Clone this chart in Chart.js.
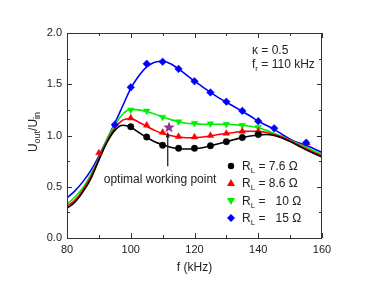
<!DOCTYPE html>
<html><head><meta charset="utf-8">
<script src="https://cdn.jsdelivr.net/npm/chart.js@4"></script>
<style>html,body{margin:0;padding:0;background:#fff}#wrap{width:374px;height:286px;position:relative}</style>
</head><body><div id="wrap"><canvas id="c" width="374" height="286"></canvas></div>
<script>
// ---- data ----
const curveFreq = [80,82.5,85,87.5,90,92.5,95,97.5,100,102.5,105,107.5,110,112.5,115,117.5,120,122.5,125,127.5,130,132.5,135,137.5,140,142.5,145,147.5,150,152.5,155,157.5,160];
const curveBlack = [0.29,0.35,0.45,0.58,0.76,0.93,1.05,1.10,1.08,1.03,0.98,0.94,0.91,0.885,0.87,0.868,0.87,0.88,0.90,0.92,0.94,0.96,0.98,0.995,1.005,1.01,1.0,0.975,0.94,0.90,0.86,0.825,0.79];
const curveRed = [0.31,0.37,0.47,0.60,0.77,0.94,1.07,1.15,1.165,1.13,1.09,1.05,1.02,1.0,0.985,0.978,0.978,0.985,0.995,1.01,1.02,1.03,1.04,1.042,1.04,1.03,1.01,0.985,0.95,0.91,0.87,0.835,0.80];
const curveGreen = [0.33,0.40,0.49,0.62,0.78,0.96,1.10,1.21,1.255,1.25,1.235,1.21,1.18,1.155,1.135,1.12,1.115,1.11,1.11,1.11,1.11,1.105,1.10,1.09,1.075,1.05,1.02,0.99,0.955,0.92,0.885,0.85,0.815];
const curveBlue = [0.39,0.46,0.55,0.66,0.80,0.96,1.12,1.29,1.46,1.58,1.67,1.715,1.725,1.70,1.65,1.59,1.53,1.475,1.42,1.37,1.325,1.28,1.235,1.19,1.14,1.10,1.06,1.01,0.965,0.93,0.905,0.87,0.835];

const blackFreq = [100,105,110,115,120,125,130,135,140];
const blackVals = [1.086,0.985,0.905,0.875,0.875,0.90,0.94,0.98,1.01];
const redFreq = [90,100,105,110,115,120,125,130,135,140,155.3];
const redVals = [0.83,1.17,1.10,1.03,0.99,0.985,1.0,1.02,1.04,1.04,0.925];
const greenFreq = [100,105,110,115,120,125,130,135,140];
const greenVals = [1.25,1.24,1.18,1.135,1.12,1.115,1.11,1.10,1.08];
const blueFreq = [95,100,105,110,115,120,125,130,135,140,145,155];
const blueVals = [1.106,1.47,1.70,1.72,1.65,1.53,1.42,1.33,1.24,1.14,1.07,0.93];
const starFreq = [112];
const starVals = [1.083];

const legendLabels = ["7.6 \u03A9","8.6 \u03A9","  10 \u03A9","  15 \u03A9"];
const xTicks = [80,100,120,140,160];
const yTicks = [0.0,0.5,1.0,1.5,2.0];

// ---- helpers ----
const FONT = '"Liberation Sans", Arial, sans-serif';
const pts = (xs, ys) => xs.map((x,i)=>({x:x,y:ys[i]}));

const starImg = document.createElement('canvas');
starImg.width = 12; starImg.height = 12;
(function(){
  const g = starImg.getContext('2d');
  g.fillStyle = '#9a2f9a';
  g.beginPath();
  for (let i=0;i<10;i++){
    const r = i%2===0 ? 6 : 2.6;
    const a = -Math.PI/2 + i*Math.PI/5;
    const px = 6 + r*Math.cos(a), py = 6.5 + r*Math.sin(a);
    if(i===0) g.moveTo(px,py); else g.lineTo(px,py);
  }
  g.closePath(); g.fill();
})();

function curve(data, color){
  return {type:'line', data:pts(curveFreq,data), borderColor:color, borderWidth:1.6, pointRadius:0, fill:false, cubicInterpolationMode:'monotone', order:3};
}
function marks(xs, ys, color, style, rot, r, ord){
  return {type:'line', data:pts(xs,ys), showLine:false, borderColor:color, backgroundColor:color, pointStyle:style, pointRotation:rot||0, pointRadius:r, borderWidth:0.5, order:ord, clip:false};
}

const deco = {
  id:'deco',
  afterDraw(chart){
    const ctx = chart.ctx, xs = chart.scales.x, ys = chart.scales.y, a = chart.chartArea;
    ctx.save();
    ctx.strokeStyle = '#333'; ctx.lineWidth = 1;
    ctx.strokeRect(a.left+0.5, a.top+0.5, a.right-a.left-1, a.bottom-a.top);
    for (let v=80; v<=160; v+=10){
      const px = Math.round(xs.getPixelForValue(v))+0.5;
      const L = (v%20===0)?5:3;
      ctx.beginPath();
      ctx.moveTo(px,a.bottom); ctx.lineTo(px,a.bottom-L);
      ctx.moveTo(px,a.top); ctx.lineTo(px,a.top+L);
      ctx.stroke();
    }
    for (let k=0;k<=8;k++){
      const v = k*0.25;
      const py = Math.round(ys.getPixelForValue(v))+0.5;
      const L = (k%2===0)?5:3;
      ctx.beginPath();
      ctx.moveTo(a.left,py); ctx.lineTo(a.left+L,py);
      ctx.moveTo(a.right,py); ctx.lineTo(a.right-L,py);
      ctx.stroke();
    }
    ctx.fillStyle = '#222';
    ctx.textBaseline = 'alphabetic';
    ctx.font = '12px ' + FONT;
    ctx.textAlign = 'center';
    ctx.fillText('f (kHz)', (a.left+a.right)/2, 271);
    ctx.save();
    ctx.translate(37, 132);
    ctx.rotate(-Math.PI/2);
    const parts = [['U',12,0],['out',9,3],['/U',12,0],['in',9,3]];
    let tw = 0;
    parts.forEach(p=>{ctx.font=p[1]+'px '+FONT; tw+=ctx.measureText(p[0]).width;});
    let cx = -tw/2;
    ctx.textAlign='left';
    parts.forEach(p=>{ctx.font=p[1]+'px '+FONT; ctx.fillText(p[0],cx,p[2]); cx+=ctx.measureText(p[0]).width;});
    ctx.restore();
    ctx.textAlign='left';
    ctx.font = '12px ' + FONT;
    ctx.fillText('\u03BA = 0.5', 252, 54);
    ctx.fillText('f', 252, 68);
    let fw = ctx.measureText('f').width;
    ctx.font = '8px ' + FONT;
    ctx.fillText('r', 252+fw, 71);
    let rw = ctx.measureText('r').width;
    ctx.font = '12px ' + FONT;
    ctx.fillText(' = 110 kHz', 252+fw+rw, 68);
    const ax = xs.getPixelForValue(111.6);
    const y1 = ys.getPixelForValue(0.70), y2 = ys.getPixelForValue(1.04);
    ctx.strokeStyle = '#222'; ctx.lineWidth = 1.3;
    ctx.beginPath(); ctx.moveTo(ax,y1); ctx.lineTo(ax,y2+3); ctx.stroke();
    ctx.fillStyle = '#222';
    ctx.beginPath(); ctx.moveTo(ax,y2); ctx.lineTo(ax-2,y2+6); ctx.lineTo(ax+2,y2+6); ctx.closePath(); ctx.fill();
    ctx.font = '12px ' + FONT;
    ctx.textAlign = 'center';
    ctx.fillText('optimal working point', xs.getPixelForValue(109.2), ys.getPixelForValue(0.54));
    const lx = 231, rows = [166, 183, 201, 218];
    const cols = ['#000000','#ff0000','#00ee00','#0000ff'];
    rows.forEach((ry,i)=>{
      ctx.fillStyle = cols[i];
      ctx.beginPath();
      if (i===0){ ctx.arc(lx,ry,3.2,0,Math.PI*2); }
      else if (i===1){ ctx.moveTo(lx,ry-4); ctx.lineTo(lx+4,ry+3); ctx.lineTo(lx-4,ry+3); ctx.closePath(); }
      else if (i===2){ ctx.moveTo(lx,ry+4); ctx.lineTo(lx+4,ry-3); ctx.lineTo(lx-4,ry-3); ctx.closePath(); }
      else { ctx.moveTo(lx,ry-4); ctx.lineTo(lx+4,ry); ctx.lineTo(lx,ry+4); ctx.lineTo(lx-4,ry); ctx.closePath(); }
      ctx.fill();
      ctx.fillStyle = '#222';
      ctx.textAlign = 'left';
      ctx.font = '12px ' + FONT;
      let tx = 242;
      ctx.fillText('R', tx, ry+4); tx += ctx.measureText('R').width;
      ctx.font = '8px ' + FONT;
      ctx.fillText('L', tx, ry+7); tx += ctx.measureText('L').width;
      ctx.font = '12px ' + FONT;
      ctx.fillText(' = ' + legendLabels[i], tx, ry+4);
    });
    ctx.restore();
  }
};

new Chart(document.getElementById('c'), {
  type:'line',
  data:{datasets:[
    curve(curveBlack,'#000000'),
    curve(curveRed,'#ff0000'),
    curve(curveGreen,'#00ee00'),
    curve(curveBlue,'#0000ff'),
    marks(blackFreq,blackVals,'#000000','circle',0,3.2,2),
    marks(redFreq,redVals,'#ff0000','triangle',0,3.8,2),
    marks(greenFreq,greenVals,'#00ee00','triangle',180,3.8,2),
    marks(blueFreq,blueVals,'#0000ff','rectRot',0,3.8,1),
    {type:'line', data:pts(starFreq,starVals), showLine:false, pointStyle:starImg, pointRadius:6, order:0}
  ]},
  options:{
    responsive:false, animation:false, devicePixelRatio:1,
    layout:{padding:{left:0,top:33,right:52,bottom:0}},
    plugins:{legend:{display:false}, tooltip:{enabled:false}},
    scales:{
      x:{type:'linear', min:80, max:160, afterFit:s=>{s.height=48;},
         afterBuildTicks:s=>{s.ticks = xTicks.map(v=>({value:v}));},
         grid:{display:false, drawTicks:false}, border:{display:false},
         ticks:{padding:5, color:'#222', font:{size:11, family:FONT}, maxRotation:0, callback:v=>String(v)}},
      y:{type:'linear', min:0, max:2, afterFit:s=>{s.width=67;},
         afterBuildTicks:s=>{s.ticks = yTicks.map(v=>({value:v}));},
         grid:{display:false, drawTicks:false}, border:{display:false},
         ticks:{padding:5, color:'#222', font:{size:11, family:FONT}, callback:v=>Number(v).toFixed(1)}}
    }
  },
  plugins:[deco]
});
</script></body></html>
